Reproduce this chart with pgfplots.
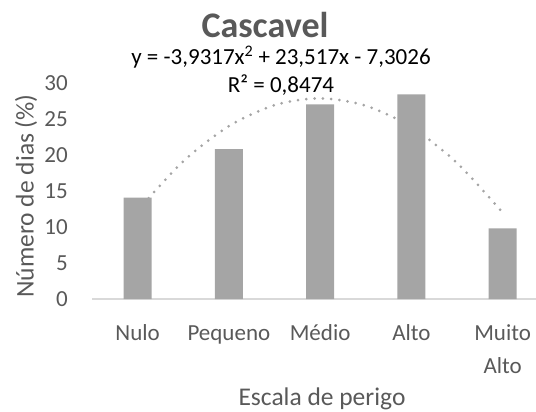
\documentclass[border=0pt]{standalone}
\usepackage{fontspec}
\setmainfont{Carlito}
\usepackage{pgfplots}
\pgfplotsset{compat=1.18}
\definecolor{bargray}{HTML}{A5A5A5}
\definecolor{txtgray}{HTML}{595959}
\definecolor{axgray}{HTML}{D9D9D9}
\begin{document}
\begin{tikzpicture}
\path[use as bounding box] (0bp,0bp) rectangle (536bp,412bp);
\clip (0bp,0bp) rectangle (536bp,412bp);
\begin{axis}[
  at={(92bp,113bp)}, anchor=south west,
  scale only axis, width=456.25bp, height=216bp,
  xmin=0.5, xmax=5.5, ymin=0, ymax=30,
  xtick={1,2,3,4,5},
  xticklabels={\strut Nulo,\strut Pequeno,\strut Médio,\strut Alto,\strut Muito\\\strut Alto},
  ytick={0,5,...,30},
  major tick length=0pt,
  axis x line*=bottom, axis y line*=left,
  y axis line style={draw=none},
  x axis line style={draw=axgray, line width=1.3bp},
  /pgf/number format/assume math mode=true,
  ticklabel style={font=\fontsize{23bp}{33bp}\selectfont, text=txtgray, inner sep=0pt},
  yticklabel style={anchor=east, xshift=-24bp},
  xticklabel style={anchor=north, yshift=-18bp, align=center},
  clip=false,
]
\addplot[smooth, color=bargray, line width=3bp, dash pattern=on 0bp off 8.3bp, line cap=round]
  coordinates {(1,12.283) (1.5,19.127) (2,24.005) (2.5,26.917) (3,27.863) (3.5,26.844) (4,23.858) (4.5,18.907) (5,11.990)};
\addplot[ybar, bar width=28bp, fill=bargray, draw=none]
  coordinates {(1,14.07) (2,20.8) (3,27.04) (4,28.43) (5,9.8)};
\end{axis}
\node[anchor=base, inner sep=0pt, text=txtgray, font=\fontsize{36bp}{40bp}\selectfont\bfseries] at (265bp,374.5bp) {Cascavel};
\node[anchor=base, inner sep=0pt, font=\fontsize{23bp}{27bp}\selectfont] at (281bp,347bp) {y = -3,9317x\textsuperscript{2} + 23,517x - 7,3026};
\node[anchor=base, inner sep=0pt, font=\fontsize{23bp}{27bp}\selectfont] at (281bp,319bp) {R² = 0,8474};
\node[rotate=90, text=txtgray, font=\fontsize{25.5bp}{29bp}\selectfont] at (26bp,216bp) {Número de dias (\%)};
\node[anchor=base, text=txtgray, font=\fontsize{25.5bp}{29bp}\selectfont] at (322bp,7bp) {Escala de perigo};
\end{tikzpicture}
\end{document}
